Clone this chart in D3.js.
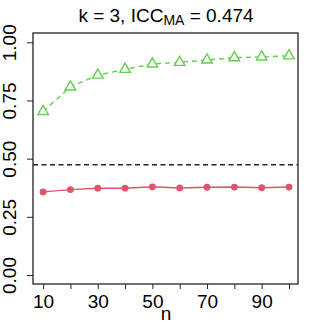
<!DOCTYPE html>
<html>
<head>
<meta charset="utf-8">
<script src="https://cdn.jsdelivr.net/npm/d3@7"></script>
<style>
  body { margin: 0; background: white; }
  svg { display: block; font-family: "Liberation Sans", Arial, sans-serif; }
  .axis text { font-size: 19px; fill: black; }
  .axis line { stroke: #222; }
</style>
</head>
<body>
<div class="mainview"></div>
<script>

// data ////////////////////////////////////
const nValues = [10, 20, 30, 40, 50, 60, 70, 80, 90, 100];
const nLabels = [10, 30, 50, 70, 90];
const yTicks = [0, 0.25, 0.5, 0.75, 1];
const iccMA = 0.474;
const seriesRed = [0.357, 0.367, 0.373, 0.373, 0.379, 0.374, 0.377, 0.378, 0.375, 0.378];
const seriesGreen = [0.703, 0.808, 0.859, 0.884, 0.907, 0.914, 0.924, 0.934, 0.937, 0.942];

const dim = { width: 332, height: 332 };
const box = { left: 33, right: 298, top: 33, bottom: 284 };

const x = d3.scaleLinear()
    .domain([10, 100])
    .range([43.1, 289]);

const y = d3.scaleLinear()
    .domain([0, 1])
    .range([275, 42.3]);

const svg = d3.select(".mainview").append("svg")
    .attr("width", dim.width)
    .attr("height", dim.height);

svg.append("rect")
    .attr("width", dim.width).attr("height", dim.height)
    .style("fill", "white");

// title
const title = svg.append("text")
    .attr("x", 166).attr("y", 22)
    .attr("text-anchor", "middle")
    .style("font-size", "19px");
title.append("tspan").text("k = 3, ICC");
title.append("tspan").attr("dy", 3).style("font-size", "14px").text("MA");
title.append("tspan").attr("dy", -3).text(" = " + iccMA.toFixed(3));

// axes
const xAxis = d3.axisBottom(x)
    .tickValues(nValues)
    .tickFormat(d => nLabels.includes(d) ? d : "")
    .tickSize(5)
    .tickPadding(5.5);

svg.append("g")
    .attr("class", "axis x")
    .attr("transform", `translate(0, ${ box.bottom })`)
    .call(xAxis)
    .call(g => g.select(".domain").remove());

const yAxis = d3.axisLeft(y)
    .tickValues(yTicks)
    .tickFormat(d3.format(".2f"))
    .tickSize(6);

svg.append("g")
    .attr("class", "axis y")
    .attr("transform", `translate(${ box.left }, 0)`)
    .call(yAxis)
    .call(g => g.select(".domain").remove())
    .call(g => g.selectAll("text")
        .attr("x", null).attr("dy", null)
        .attr("text-anchor", "middle")
        .attr("transform", "translate(-17.5, 0) rotate(-90)"));

svg.append("text")
    .attr("x", 166).attr("y", 320)
    .attr("text-anchor", "middle")
    .style("font-size", "19px")
    .text("n");

// reference line
svg.append("line")
    .attr("x1", box.left).attr("x2", box.right)
    .attr("y1", y(iccMA)).attr("y2", y(iccMA))
    .style("stroke", "#222")
    .style("stroke-width", 1.6)
    .style("stroke-dasharray", "5,3.5");

// series
const line = d3.line()
    .x((d, i) => x(nValues[i]))
    .y(d => y(d));

svg.append("path")
    .attr("d", line(seriesRed))
    .style("fill", "none")
    .style("stroke", "#DF536B")
    .style("stroke-width", 1.4);

svg.append("g")
    .selectAll("circle")
    .data(seriesRed)
    .join("circle")
    .attr("cx", (d, i) => x(nValues[i]))
    .attr("cy", d => y(d))
    .attr("r", 3.4)
    .style("fill", "#DF536B");

svg.append("path")
    .attr("d", line(seriesGreen))
    .style("fill", "none")
    .style("stroke", "#61D04F")
    .style("stroke-width", 1.4)
    .style("stroke-dasharray", "5,4");

svg.append("g")
    .selectAll("path")
    .data(seriesGreen)
    .join("path")
    .attr("d", d3.symbol(d3.symbolTriangle, 48))
    .attr("transform", (d, i) => `translate(${ x(nValues[i]) }, ${ y(d) })`)
    .style("fill", "white")
    .style("stroke", "#61D04F")
    .style("stroke-width", 1.4);

// frame
svg.append("rect")
    .attr("x", box.left).attr("y", box.top)
    .attr("width", box.right - box.left)
    .attr("height", box.bottom - box.top)
    .style("fill", "none")
    .style("stroke", "#222")
    .style("stroke-width", 1.3);

</script>
</body>
</html>
